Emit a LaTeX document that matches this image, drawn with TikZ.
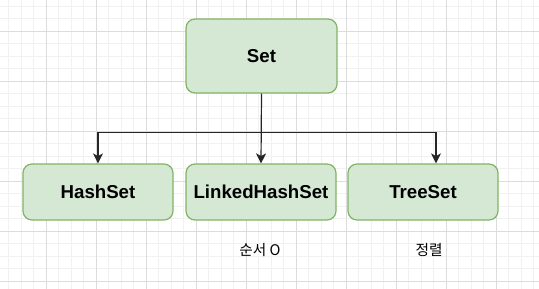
\documentclass[tikz,border=0pt]{standalone}
\usepackage{fontspec}
\setmainfont{Liberation Sans}
\newfontfamily\krfont{Noto Sans CJK KR}
\usetikzlibrary{arrows.meta,calc}
\definecolor{boxfill}{HTML}{D5E8D4}
\definecolor{boxline}{HTML}{82B366}
\definecolor{gridminor}{HTML}{F1F1F1}
\definecolor{gridmajor}{HTML}{DCDCDC}
\tikzset{
  classbox/.style={draw=boxline, fill=boxfill, line width=0.9pt, rounded corners=6.75pt,
    minimum width=112.5pt, minimum height=42pt, inner sep=0pt,
    font=\fontsize{14pt}{16pt}\selectfont\bfseries},
  conn/.style={draw=black!85, line width=0.9pt, -{Stealth[length=7.5pt,width=7.5pt,inset=2pt]}},
  note/.style={font=\krfont\fontsize{11pt}{13pt}\selectfont, inner sep=0pt}
}
\begin{document}
\begin{tikzpicture}[x=0.75pt,y=-0.75pt]
\useasboundingbox (0,0) rectangle (539,289);
\fill[white] (0,0) rectangle (539,289);
% minor grid
\foreach \i in {0,...,42} {
  \draw[gridminor, line width=0.75pt] ({8.8+12.5*\i},0) -- ({8.8+12.5*\i},289);
}
\foreach \j in {0,...,23} {
  \draw[gridminor, line width=0.75pt] (0,{6.3+12.5*\j}) -- (539,{6.3+12.5*\j});
}
% major grid
\foreach \i in {0,...,10} {
  \draw[gridmajor, line width=0.75pt] ({46.3+50*\i},0) -- ({46.3+50*\i},289);
}
\foreach \j in {0,...,5} {
  \draw[gridmajor, line width=0.75pt] (0,{31.3+50*\j}) -- (539,{31.3+50*\j});
}
% nodes
\node[classbox, minimum width=113.25pt, minimum height=55.5pt] (set) at (261.5,56) {Set};
\node[classbox] (hash) at (98,192) {HashSet};
\node[classbox] (linked) at (261,192) {LinkedHashSet};
\node[classbox] (tree) at (423,192) {TreeSet};
\node[note] (order) at (260,250) {순서 O};
\node[note] (sorted) at (429,250) {정렬};
% connectors
\coordinate (junction) at ($(set.south)+(0,39)$);
\coordinate (treein) at ($(tree.north)+(13,0)$);
\path[conn] (set.south) -- (junction) -| (hash.north);
\path[conn] (set.south) -- (linked.north);
\path[conn] (junction) -| (treein);
\end{tikzpicture}
\end{document}
